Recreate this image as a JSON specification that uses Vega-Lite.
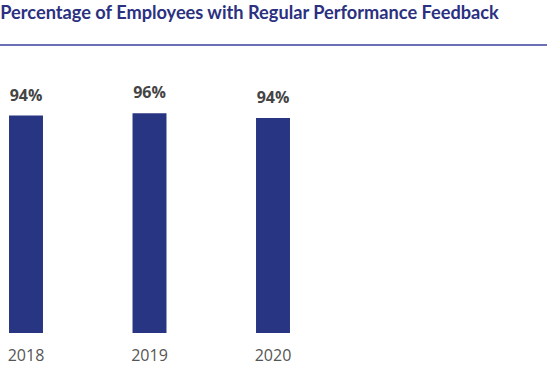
{
  "$schema": "https://vega.github.io/schema/vega-lite/v6.json",
  "autosize": "none",
  "width": 547,
  "height": 288,
  "padding": {"top": 45, "left": 0, "right": 0, "bottom": 39},
  "background": "white",
  "title": {
    "text": "Percentage of Employees with Regular Performance Feedback",
    "anchor": "start",
    "font": "Lato",
    "fontSize": 18.2,
    "fontWeight": "bold",
    "color": "#2b3180",
    "offset": 21,
    "dx": 1
  },
  "config": {"view": {"stroke": null}},
  "data": {
    "values": [
      {"year": "2018", "value": 94.5, "label": "94%"},
      {"year": "2019", "value": 95.5, "label": "96%"},
      {"year": "2020", "value": 93.5, "label": "94%"}
    ]
  },
  "layer": [
    {
      "mark": {"type": "bar", "color": "#283582"},
      "encoding": {
        "x": {
          "field": "year",
          "type": "nominal",
          "scale": {"range": [0, 299], "paddingInner": 0.725, "paddingOuter": 0.073},
          "axis": {
            "title": null,
            "domain": false,
            "ticks": false,
            "labelAngle": 0,
            "labelFont": "Open Sans",
            "labelFontSize": 16,
            "labelColor": "#555555",
            "labelPadding": 14
          }
        },
        "y": {
          "field": "value",
          "type": "quantitative",
          "scale": {"domain": [0, 125.2], "nice": false, "zero": true},
          "axis": null
        }
      }
    },
    {
      "mark": {
        "type": "text",
        "baseline": "alphabetic",
        "dy": -15,
        "font": "Open Sans",
        "fontSize": 16,
        "fontWeight": "bold",
        "color": "#444444"
      },
      "encoding": {
        "x": {"field": "year", "type": "nominal"},
        "y": {"field": "value", "type": "quantitative"},
        "text": {"field": "label"}
      }
    },
    {
      "mark": {"type": "rule", "color": "#6a6cb6", "strokeWidth": 1.5},
      "encoding": {"y": {"datum": 125.2}}
    }
  ]
}
